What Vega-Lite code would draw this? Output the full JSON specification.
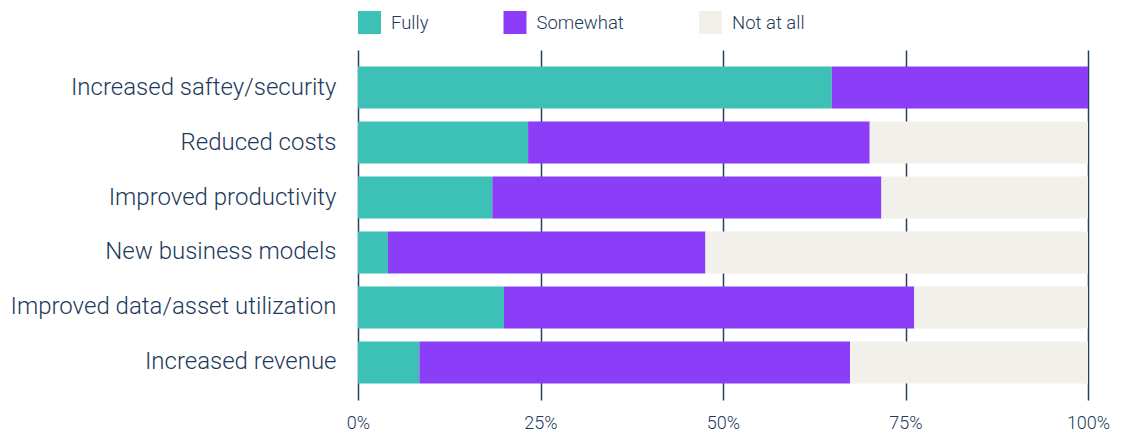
{
  "$schema": "https://vega.github.io/schema/vega-lite/v6.json",
  "width": 730,
  "height": 350,
  "autosize": {"type": "none"},
  "padding": {"left": 358, "top": 50, "right": 35, "bottom": 33},
  "background": "white",
  "config": {
    "view": {"stroke": null},
    "font": "Roboto",
    "axis": {"labelFont": "Roboto", "labelFontWeight": 300, "labelColor": "#1d3a5c"},
    "legend": {"labelFont": "Roboto", "labelFontWeight": 300, "labelColor": "#1d3a5c"}
  },
  "data": {
    "values": [
      {"category": "Increased saftey/security", "level": "Fully", "ord": 1, "value": 64.9},
      {"category": "Increased saftey/security", "level": "Somewhat", "ord": 2, "value": 35.1},
      {"category": "Increased saftey/security", "level": "Not at all", "ord": 3, "value": 0},
      {"category": "Reduced costs", "level": "Fully", "ord": 1, "value": 23.3},
      {"category": "Reduced costs", "level": "Somewhat", "ord": 2, "value": 46.8},
      {"category": "Reduced costs", "level": "Not at all", "ord": 3, "value": 29.9},
      {"category": "Improved productivity", "level": "Fully", "ord": 1, "value": 18.4},
      {"category": "Improved productivity", "level": "Somewhat", "ord": 2, "value": 53.3},
      {"category": "Improved productivity", "level": "Not at all", "ord": 3, "value": 28.3},
      {"category": "New business models", "level": "Fully", "ord": 1, "value": 4.1},
      {"category": "New business models", "level": "Somewhat", "ord": 2, "value": 43.5},
      {"category": "New business models", "level": "Not at all", "ord": 3, "value": 52.4},
      {"category": "Improved data/asset utilization", "level": "Fully", "ord": 1, "value": 20.0},
      {"category": "Improved data/asset utilization", "level": "Somewhat", "ord": 2, "value": 56.2},
      {"category": "Improved data/asset utilization", "level": "Not at all", "ord": 3, "value": 23.8},
      {"category": "Increased revenue", "level": "Fully", "ord": 1, "value": 8.4},
      {"category": "Increased revenue", "level": "Somewhat", "ord": 2, "value": 59.0},
      {"category": "Increased revenue", "level": "Not at all", "ord": 3, "value": 32.6}
    ]
  },
  "mark": {"type": "bar"},
  "encoding": {
    "y": {
      "field": "category",
      "type": "nominal",
      "sort": null,
      "scale": {"paddingInner": 0.236, "paddingOuter": 0.3},
      "axis": {
        "title": null,
        "domain": false,
        "ticks": false,
        "labelFontSize": 24,
        "labelPadding": 22,
        "labelLimit": 400
      }
    },
    "x": {
      "field": "value",
      "type": "quantitative",
      "stack": "zero",
      "scale": {"domain": [0, 100], "nice": false},
      "axis": {
        "title": null,
        "values": [0, 25, 50, 75, 100],
        "labelExpr": "datum.value + '%'",
        "domain": false,
        "ticks": false,
        "grid": true,
        "gridColor": "#24405f",
        "gridWidth": 1.5,
        "labelFontSize": 18,
        "labelPadding": 14,
        "labelFlush": false
      }
    },
    "color": {
      "field": "level",
      "type": "nominal",
      "sort": ["Fully", "Somewhat", "Not at all"],
      "scale": {"domain": ["Fully", "Somewhat", "Not at all"], "range": ["#3dc1b6", "#8c3df8", "#f1f0ea"]},
      "legend": {
        "title": null,
        "orient": "top",
        "direction": "horizontal",
        "symbolType": "square",
        "symbolSize": 529,
        "symbolStrokeWidth": 0,
        "labelFontSize": 18.5,
        "labelOffset": 10,
        "columnPadding": 74.5,
        "offset": 16
      }
    },
    "order": {"field": "ord", "type": "quantitative"}
  }
}
